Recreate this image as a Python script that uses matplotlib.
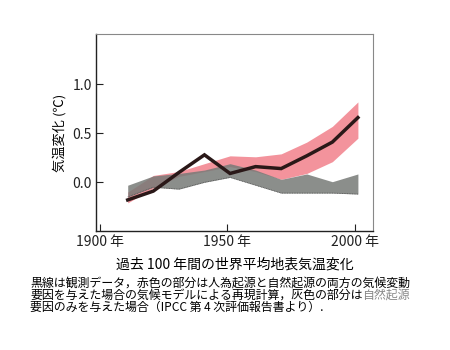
import matplotlib
matplotlib.use("Agg")
import matplotlib.pyplot as plt

plt.rcParams['font.family'] = ['Noto Sans CJK JP', 'DejaVu Sans']

years = [1911, 1921, 1931, 1941, 1951, 1961, 1971, 1981, 1991, 2001]
observed = [-0.18, -0.09, 0.10, 0.28, 0.09, 0.16, 0.14, 0.27, 0.41, 0.66]
pink_upper = [-0.10, 0.07, 0.11, 0.19, 0.27, 0.26, 0.29, 0.41, 0.57, 0.82]
pink_lower = [-0.21, -0.06, 0.06, 0.11, 0.16, 0.11, 0.03, 0.09, 0.21, 0.45]
gray_upper = [-0.03, 0.065, 0.09, 0.125, 0.19, 0.125, 0.03, 0.085, 0.006, 0.085]
gray_lower = [-0.15, -0.05, -0.07, 0.0, 0.05, -0.03, -0.11, -0.11, -0.11, -0.12]

xticks = [1900, 1950, 2000]
xticklabels = ["1900 年", "1950 年", "2000 年"]
yticks = [0.0, 0.5, 1.0]
yticklabels = ["0.0", "0.5", "1.0"]

fig = plt.figure(figsize=(4.5, 3.5), dpi=100)
ax = fig.add_axes([96/450, 1-231/350, (373-96)/450, (231-34)/350])

ax.fill_between(years, pink_lower, pink_upper, color='#f3939c', lw=0)
ax.fill_between(years, gray_lower, gray_upper, color='#777a77', alpha=0.85, lw=0)
ax.plot(years, gray_lower, color='#555555', lw=0.6, ls=(0, (1, 1)))
ax.plot(years, observed, color='#2a1818', lw=2.5, solid_joinstyle='miter')

ax.set_xlim(1898.6, 2006.9)
ax.set_ylim(-0.497, 1.513)
ax.set_xticks(xticks)
ax.set_xticklabels(xticklabels, fontsize=10)
ax.set_yticks(yticks)
ax.set_yticklabels(yticklabels, fontsize=10)
ax.tick_params(direction='in', length=5, width=0.8, pad=3, colors='#222222')
for s in ['top', 'right']:
    ax.spines[s].set_color('#888888')
    ax.spines[s].set_linewidth(0.8)
for s in ['left', 'bottom']:
    ax.spines[s].set_color('#222222')
    ax.spines[s].set_linewidth(1.0)

ax.set_ylabel("気温変化 (℃)", fontsize=9.5, labelpad=4)

fig.text(235/450, 1-265/350, "過去 100 年間の世界平均地表気温変化", ha='center', va='center', fontsize=10)
fig.text(30/450, 1-283/350, "黒線は観測データ，赤色の部分は人為起源と自然起源の両方の気候変動",
         ha='left', va='center', fontsize=8.6)
t2 = fig.text(30/450, 1-295/350, "要因を与えた場合の気候モデルによる再現計算，灰色の部分は",
              ha='left', va='center', fontsize=8.6)
fig.canvas.draw()
bb = t2.get_window_extent()
fig.text(bb.x1/fig.bbox.width, 1-295/350, "自然起源", ha='left', va='center', fontsize=8.6, color='#888888')
fig.text(30/450, 1-307/350, "要因のみを与えた場合（IPCC 第 4 次評価報告書より）.",
         ha='left', va='center', fontsize=8.6)

fig.savefig("out.png", dpi=100)
